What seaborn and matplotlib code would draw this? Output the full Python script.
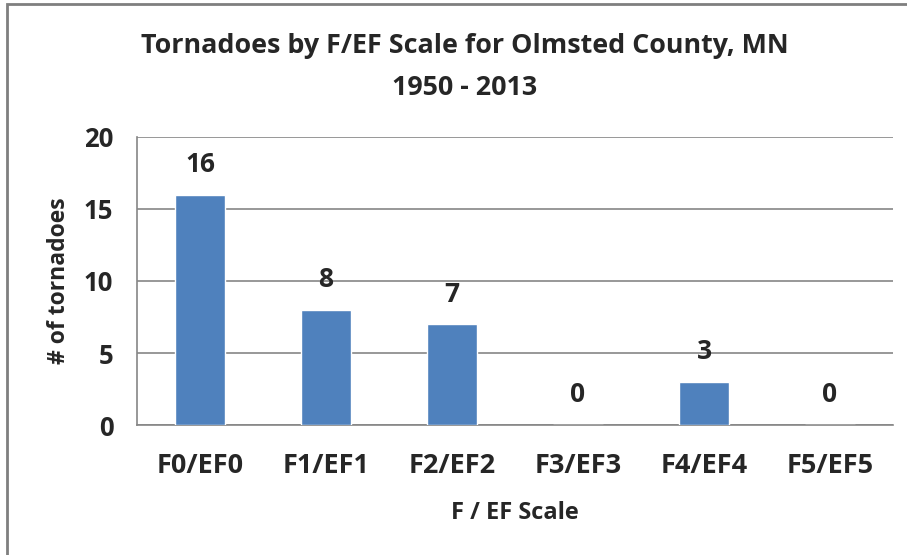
import matplotlib
matplotlib.use("Agg")
import matplotlib.pyplot as plt
import seaborn as sns
import pandas as pd
from matplotlib.patches import Rectangle

categories = ["F0/EF0", "F1/EF1", "F2/EF2", "F3/EF3", "F4/EF4", "F5/EF5"]
counts = [16, 8, 7, 0, 3, 0]
yticks = [0, 5, 10, 15, 20]

title = "Tornadoes by F/EF Scale for Olmsted County, MN\n1950 - 2013"
xlabel = "F / EF Scale"
ylabel = "# of tornadoes"

sns.set_style("white")
plt.rcParams["font.family"] = ["Open Sans", "DejaVu Sans"]
plt.rcParams["font.weight"] = "bold"

df = pd.DataFrame({"scale": categories, "count": counts})

fig = plt.figure(figsize=(9.07, 5.55), dpi=100)
ax = fig.add_axes([0.151, 0.2342, 0.8336, 0.519])

sns.barplot(data=df, x="scale", y="count", color="#4F81BD", saturation=1,
            width=0.4, ax=ax, zorder=3)

ax.set_ylim(0, 20)
ax.set_xlim(-0.5, len(categories) - 0.5)
ax.set_yticks(yticks)
ax.yaxis.grid(True, color="#868686", linewidth=1.2, zorder=0)
ax.set_axisbelow(True)

for s in ["top", "right"]:
    ax.spines[s].set_visible(False)
for s in ["left", "bottom"]:
    ax.spines[s].set_color("#868686")
    ax.spines[s].set_linewidth(1.2)

ax.set_xticks(range(len(categories)))
ax.set_xticklabels(categories, fontsize=19.5, fontweight="bold")
ax.tick_params(axis="x", length=0, pad=20)
ax.set_xticks([i - 0.5 for i in range(len(categories) + 1)], minor=True)
ax.tick_params(axis="x", which="minor", length=9, color="#868686", width=1.2)
ax.tick_params(axis="y", length=9, color="#868686", width=1.2, pad=8, labelsize=18.5)
for lbl in ax.get_yticklabels():
    lbl.set_fontweight("bold")

ax.set_xlabel(xlabel, fontsize=17, fontweight="bold", labelpad=16)
ax.set_ylabel(ylabel, fontsize=16.5, fontweight="bold", labelpad=9)

for i, v in enumerate(counts):
    ax.annotate(str(v), (i, v), xytext=(0, 12), textcoords="offset points",
                ha="center", va="bottom", fontsize=19, fontweight="bold", zorder=4)

fig.text(0.5127, 0.879, title, ha="center", va="center", fontsize=19.4,
         fontweight="bold", linespacing=1.82)

fig.patches.append(Rectangle((0.008, -0.1), 1.1, 1.092, transform=fig.transFigure,
                             fill=False, edgecolor="#7F7F7F", linewidth=2))

fig.savefig("out.png", dpi=100)
